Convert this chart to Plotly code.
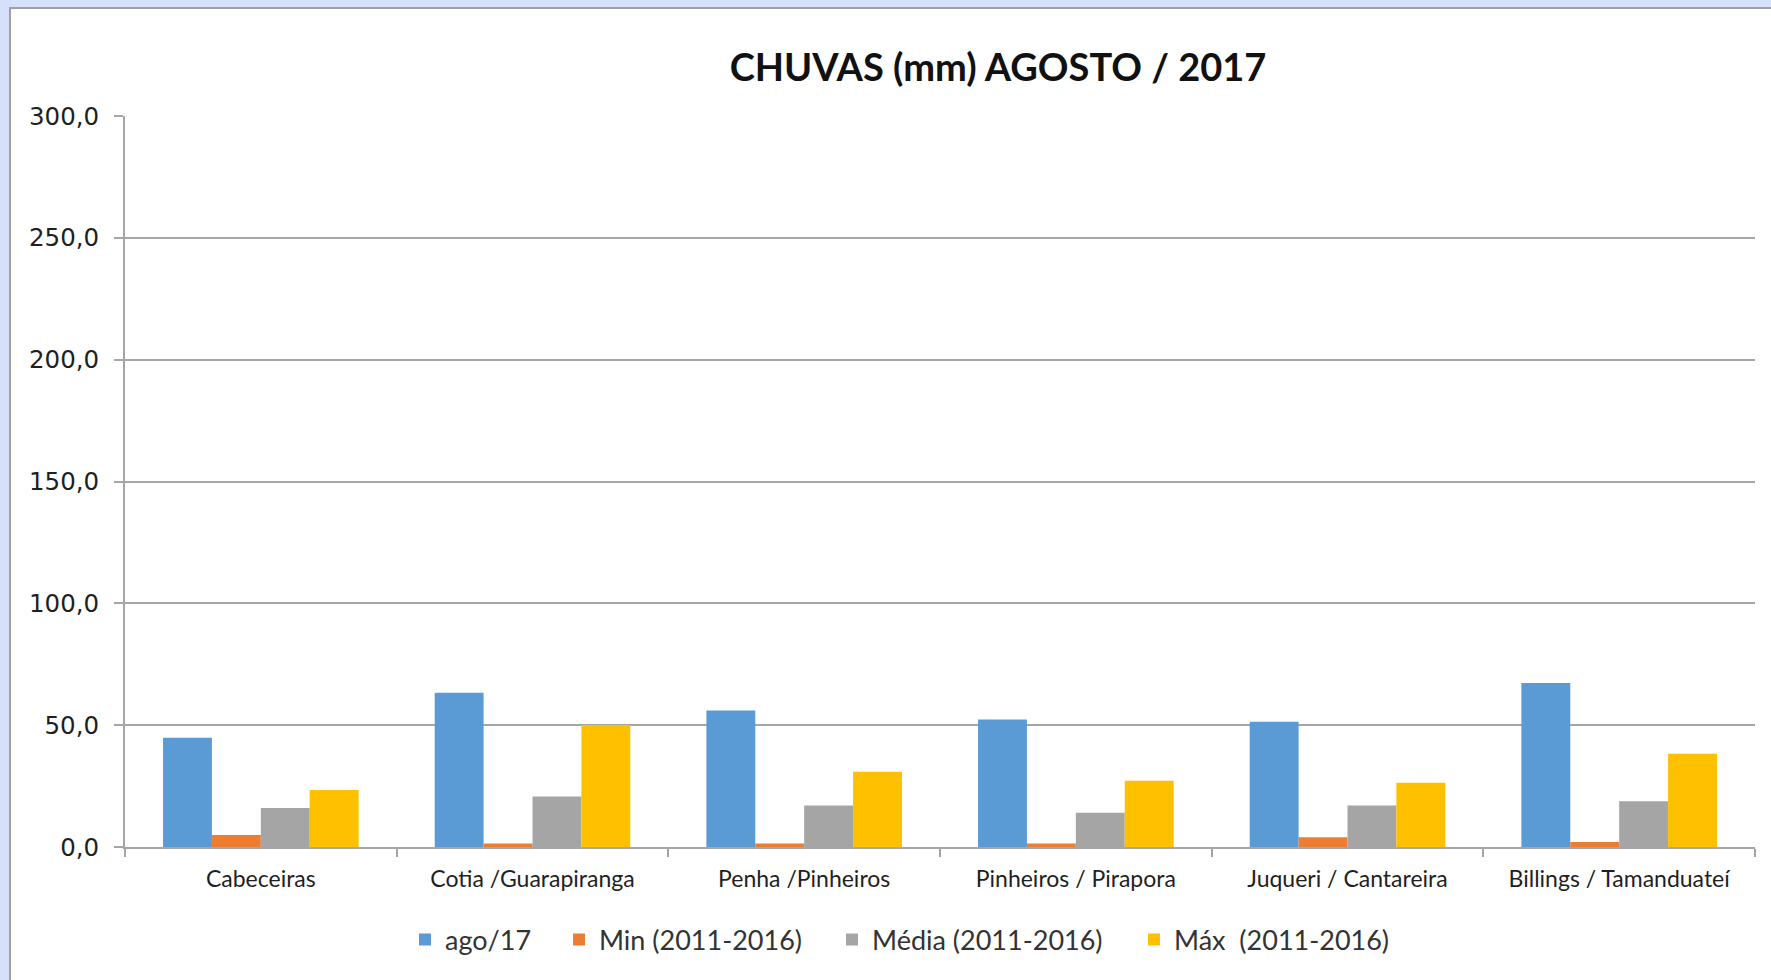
import plotly.graph_objects as go

categories = ["Cabeceiras", "Cotia /Guarapiranga", "Penha /Pinheiros",
              "Pinheiros / Pirapora", "Juqueri / Cantareira", "Billings / Tamanduateí"]
ago17 = [44.8, 63.3, 56.0, 52.3, 51.4, 67.3]
min_2011_2016 = [4.9, 1.4, 1.4, 1.4, 4.0, 2.1]
media_2011_2016 = [16.0, 20.7, 17.0, 14.1, 17.0, 18.8]
max_2011_2016 = [23.4, 50.1, 30.9, 27.2, 26.4, 38.3]

series_names = ["ago/17", "Min (2011-2016)", "Média (2011-2016)", "Máx  (2011-2016)"]
series_colors = ["#5b9bd5", "#ed7d31", "#a5a5a5", "#ffc000"]
y_ticks = [0, 50, 100, 150, 200, 250, 300]

W, H = 1771, 980
L, R, T, B = 125, 16, 116, 133
pw, ph = W - L - R, H - T - B

def px_x(p):
    return (p - L) / pw

def px_y(p):
    return (H - B - p) / ph

font_family = "Lato, 'Open Sans', sans-serif"
legend_ids = ["legend", "legend2", "legend3", "legend4"]
legend_px = [405, 559, 832, 1134]

fig = go.Figure()
for name, vals, col, lid in zip(series_names, [ago17, min_2011_2016, media_2011_2016, max_2011_2016],
                                series_colors, legend_ids):
    fig.add_trace(go.Bar(x=categories, y=vals, name=name, legend=lid,
                         marker=dict(color=col, line=dict(width=0))))

legend_layout = {}
for lid, lx in zip(legend_ids, legend_px):
    legend_layout[lid] = dict(orientation="h", x=px_x(lx), xanchor="left", y=px_y(940), yanchor="middle",
                              font=dict(size=27, color="#333333", family=font_family),
                              bgcolor="rgba(0,0,0,0)", borderwidth=0)

fig.update_layout(
    width=W, height=H,
    margin=dict(l=L, r=R, t=T, b=B),
    paper_bgcolor="#d7e0fb",
    plot_bgcolor="rgba(0,0,0,0)",
    barmode="group", bargap=0.28, bargroupgap=0,
    separators=", ",
    font=dict(family=font_family, color="#404040"),
    title=dict(text="<b>CHUVAS (mm) AGOSTO / 2017</b>", x=998 / W, xref="container", xanchor="center",
               y=1 - 68 / H, yref="container", yanchor="middle",
               font=dict(size=38, color="#111111", family=font_family)),
    showlegend=True,
    shapes=[dict(type="rect", xref="paper", yref="paper", x0=px_x(10), x1=px_x(1790),
                 y0=px_y(1000), y1=px_y(8), fillcolor="white", line=dict(color="#a0a0a0", width=2),
                 layer="below")],
    **legend_layout,
)
fig.update_yaxes(range=[0, 300], tickvals=y_ticks, tickformat=".1f", showgrid=True, automargin=False,
                 gridcolor="#a6a6a6", gridwidth=2, showline=True, linecolor="#a6a6a6", linewidth=2,
                 ticks="outside", ticklen=9, tickcolor="#a6a6a6", tickwidth=2,
                 tickfont=dict(size=24.5, color="#1f1f1f", family="'DejaVu Sans', sans-serif"),
                 zeroline=False, ticklabelstandoff=10)
fig.update_xaxes(showline=True, linecolor="#a6a6a6", linewidth=2, ticks="outside", ticklen=8, automargin=False,
                 tickcolor="#a6a6a6", tickwidth=2, tickson="boundaries", ticklabelstandoff=10,
                 tickfont=dict(size=23, color="#1f1f1f", family=font_family), showgrid=False)

fig.write_html("out.html", config={"displayModeBar": False},
               post_script="document.body.style.margin='0';document.body.style.overflow='hidden';")
